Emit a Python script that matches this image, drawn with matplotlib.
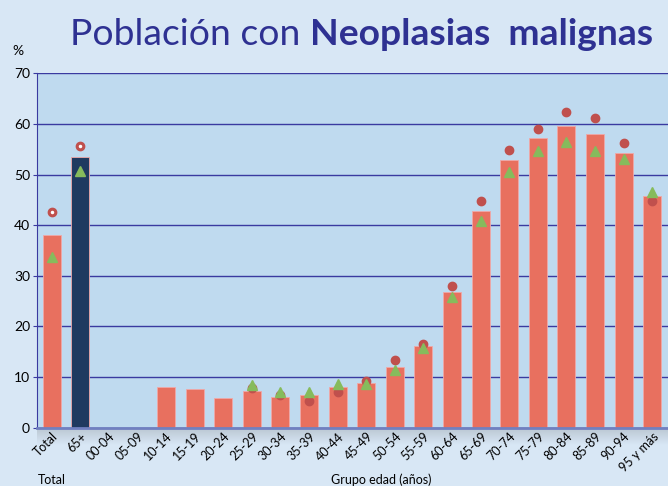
import matplotlib.pyplot as plt
import numpy as np

plt.rcParams['font.family'] = ['Lato', 'DejaVu Sans']

categories = ["Total", "65+", "00-04", "05-09", "10-14", "15-19", "20-24", "25-29",
              "30-34", "35-39", "40-44", "45-49", "50-54", "55-59", "60-64", "65-69",
              "70-74", "75-79", "80-84", "85-89", "90-94", "95 y más"]
# bar values (%)
bars = [38.0, 53.5, 0, 0, 8.1, 7.6, 5.8, 7.3, 6.0, 6.5, 8.1, 8.8, 12.0, 16.2,
        26.8, 42.9, 52.9, 57.2, 59.7, 58.0, 54.3, 45.7]
# red circle series
circles = [42.6, 55.7, None, None, None, None, None, 7.9, 6.4, 5.3, 7.1, 9.3, 13.3, 16.6,
           27.9, 44.8, 54.8, 59.1, 62.3, 61.1, 56.2, 44.7]
# green triangle series
triangles = [33.7, 50.8, None, None, None, None, None, 8.5, 7.0, 7.1, 8.65, 8.6, 11.3, 15.8,
             25.8, 40.8, 50.6, 54.6, 56.5, 54.7, 53.1, 46.5]

x = np.arange(len(categories))
bar_colors = ["#e8705f"] * len(categories)
bar_colors[1] = "#1f3a60"

fig = plt.figure(figsize=(6.68, 4.86), dpi=100, facecolor="#d8e7f5")

# soft grey shadow under the x axis
shade = fig.add_axes([0.0554, 0.085, 0.9446, 0.035])
grad = np.linspace(0, 1, 50).reshape(-1, 1)
shade.imshow(grad, aspect="auto", cmap=plt.matplotlib.colors.LinearSegmentedColormap.from_list(
    "sh", ["#d8e7f5", "#b9c5d1"]), origin="lower", extent=[0, 1, 0, 1])
shade.axis("off")

ax = fig.add_axes([0.0554, 0.12, 0.9446, 0.729])
ax.set_facecolor("#bfdaef")

ax.bar(x, bars, width=0.63, color=bar_colors, edgecolor="#f0a8a8", linewidth=0.6, zorder=2)

cx = [xi for xi, v in zip(x, circles) if v is not None]
cy = [v for v in circles if v is not None]
tx = [xi for xi, v in zip(x, triangles) if v is not None]
ty = [v for v in triangles if v is not None]
ax.plot(cx, cy, "o", color="#c0504d", markersize=6, zorder=3)
ax.plot(tx, ty, "^", color="#86bb5c", markersize=6.5, zorder=4)
# hollow centre for the two first circles
ax.plot(cx[:2], cy[:2], "o", color="white", markersize=1.5, zorder=3.5)

ax.set_ylim(0, 70)
ax.set_xlim(-0.51, len(categories) - 1 + 0.55)
ax.set_yticks(range(0, 71, 10))
ax.yaxis.grid(True, color="#3a3aa0", linewidth=1.0, zorder=1)
ax.set_axisbelow(True)
for s in ["top", "right"]:
    ax.spines[s].set_visible(False)
ax.spines["left"].set_color("#3a3aa0")
ax.spines["bottom"].set_color("#7080c0")
ax.spines["bottom"].set_linewidth(2)
ax.tick_params(axis="y", labelsize=10, length=3, color="#3a3aa0", pad=2)
ax.tick_params(axis="x", length=0, labelsize=9, pad=2)
ax.set_xticks(x)
ax.set_xticklabels(categories, rotation=45, ha="right", rotation_mode="anchor")

fig.text(0.027, 0.895, "%", fontsize=10, ha="center", va="center")
fig.text(0.078, 0.0, "Total", fontsize=9, ha="center", va="bottom")
fig.text(0.57, 0.0, "Grupo edad (años)", fontsize=9, ha="center", va="bottom")

t1 = fig.text(0.105, 0.928, "Población con ", fontsize=26.8, color="#2e3192",
              fontweight="normal", va="center", ha="left")
fig.canvas.draw()
bb = t1.get_window_extent()
fig.text(bb.x1 / fig.bbox.width, 0.928, "Neoplasias  malignas", fontsize=26.8,
         color="#2e3192", fontweight="bold", va="center", ha="left")

fig.savefig("out.png", dpi=100, facecolor=fig.get_facecolor())
